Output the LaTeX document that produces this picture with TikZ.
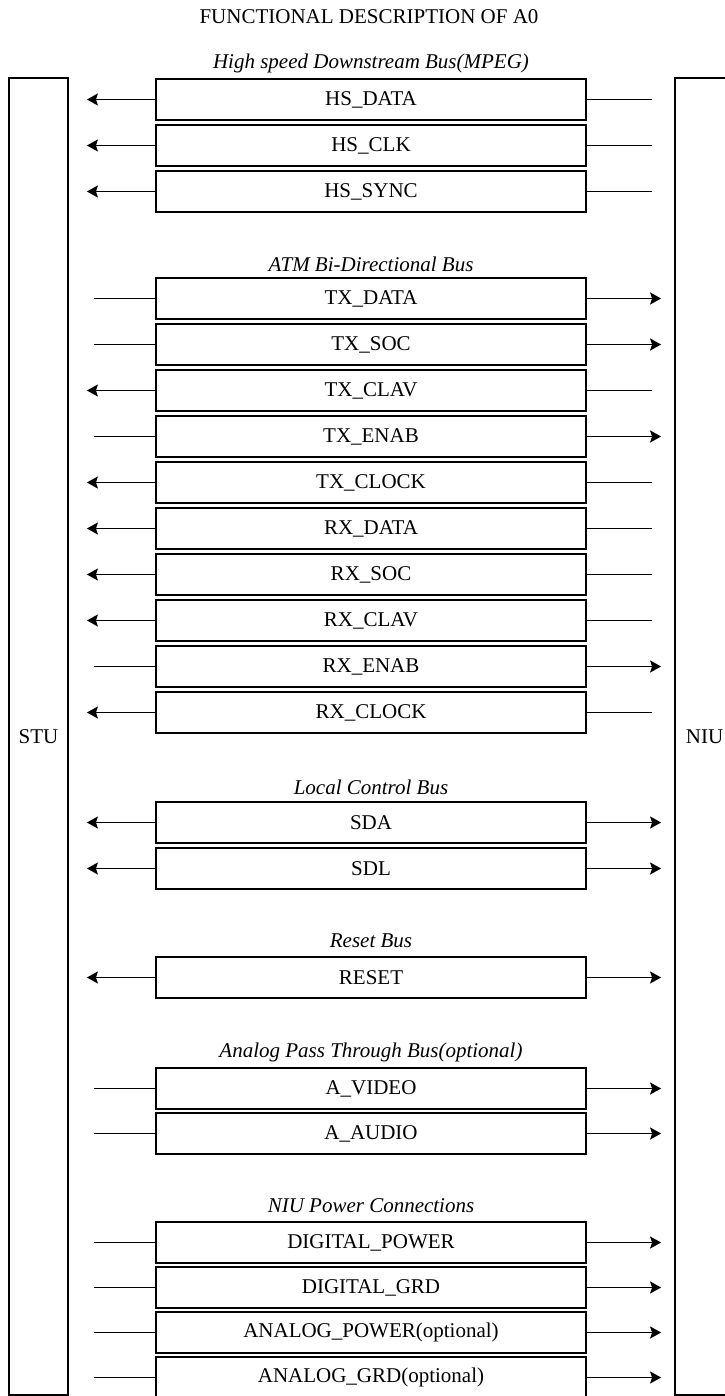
\documentclass[tikz,border=0pt]{standalone}
\usepackage{fontspec}
\setmainfont{Liberation Serif}
\usetikzlibrary{arrows.meta}
\newcommand{\docfont}{\fontsize{21}{25}\selectfont}
\tikzset{
  unit/.style={rectangle, draw=black, line width=1.8pt, minimum width=59pt, minimum height=1317pt, inner sep=0pt, font=\docfont},
  sigbox/.style={rectangle, draw=black, line width=1.8pt, minimum width=430pt, minimum height=41pt, inner sep=0pt, font=\docfont},
  bushead/.style={font=\docfont\itshape},
  heading/.style={font=\docfont},
  flow/.style={line width=1.7pt, draw=black},
  stuarrow/.style={-{Stealth[length=11pt, width=12pt, inset=2pt]}, shorten >=18pt},
  stuline/.style={shorten >=25pt},
  niuarrow/.style={-{Stealth[length=11pt, width=12pt, inset=2pt]}, shorten >=13pt},
  niuline/.style={shorten >=22pt}
}
\begin{document}
\begin{tikzpicture}[x=1pt, y=-1pt]
\useasboundingbox (0,0) rectangle (724,1396);

\node[heading] (title) at (369,17) {FUNCTIONAL DESCRIPTION OF A0};

\node[unit] (stu) at (38.5,736.5) {STU};
\node[unit] (niu) at (704.5,736.5) {NIU};

% bus names
\node[bushead] (hsbus) at (371,63) {High speed Downstream Bus(MPEG)};
\node[bushead] (atmbus) at (371,264) {ATM Bi-Directional Bus};
\node[bushead] (ctlbus) at (371,787) {Local Control Bus};
\node[bushead] (rstbus) at (371,941) {Reset Bus};
\node[bushead] (anabus) at (371,1052) {Analog Pass Through Bus(optional)};
\node[bushead] (pwrbus) at (371,1206) {NIU Power Connections};

% signals
\foreach \n/\y/\lab/\la/\ra in {
  hsdata/99.5/HS\_DATA/stuarrow/niuline,
  hsclk/145.5/HS\_CLK/stuarrow/niuline,
  hssync/191.5/HS\_SYNC/stuarrow/niuline,
  txdata/298.5/TX\_DATA/stuline/niuarrow,
  txsoc/344.5/TX\_SOC/stuline/niuarrow,
  txclav/390.5/TX\_CLAV/stuarrow/niuline,
  txenab/436.5/TX\_ENAB/stuline/niuarrow,
  txclock/482.5/TX\_CLOCK/stuarrow/niuline,
  rxdata/528.5/RX\_DATA/stuarrow/niuline,
  rxsoc/574.5/RX\_SOC/stuarrow/niuline,
  rxclav/620.5/RX\_CLAV/stuarrow/niuline,
  rxenab/666.5/RX\_ENAB/stuline/niuarrow,
  rxclock/712.5/RX\_CLOCK/stuarrow/niuline,
  sda/822.5/SDA/stuarrow/niuarrow,
  sdl/868.5/SDL/stuarrow/niuarrow,
  reset/977.5/RESET/stuarrow/niuarrow,
  avideo/1088.5/A\_VIDEO/stuline/niuarrow,
  aaudio/1133.5/A\_AUDIO/stuline/niuarrow,
  dpower/1242.5/DIGITAL\_POWER/stuline/niuarrow,
  dgrd/1287.5/DIGITAL\_GRD/stuline/niuarrow,
  apower/1332.5/ANALOG\_POWER(optional)/stuline/niuarrow,
  agrd/1377.5/ANALOG\_GRD(optional)/stuline/niuarrow}{
  \node[sigbox] (\n) at (371,\y) {\lab};
  \draw[flow, \la] (\n.west) -- (\n.west -| stu.east);
  \draw[flow, \ra] (\n.east) -- (\n.east -| niu.west);
}

\end{tikzpicture}
\end{document}
